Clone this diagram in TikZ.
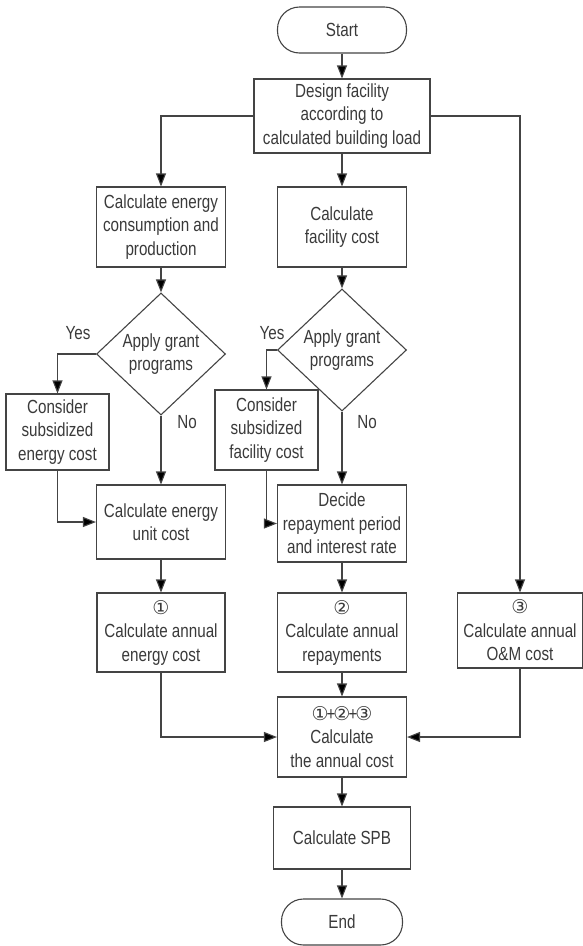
\documentclass[tikz,border=0pt]{standalone}
\usepackage{fontspec}
\setmainfont{Liberation Sans}[FakeStretch=0.8]
\newfontfamily\circfont{DejaVu Sans}
\usetikzlibrary{arrows.meta,shapes.geometric}
\definecolor{txt}{HTML}{3A3A3A}
\definecolor{edge}{HTML}{444444}
\newcommand{\cn}[1]{{\circfont\fontsize{19}{19}\selectfont #1}}
\tikzset{
  base/.style={draw=edge, line width=1.1pt, text=txt, align=center, inner sep=1pt,
    font=\fontsize{19}{23.5}\selectfont},
  box/.style={base, rectangle, minimum width=#1},
  term/.style={base, rectangle, rounded corners=22pt, minimum width=#1, minimum height=46pt},
  dec/.style={base, diamond, minimum width=129pt},
  lbl/.style={text=txt, inner sep=0pt, font=\fontsize{19}{23.5}\selectfont},
  arr/.style={draw=edge, line width=1.1pt, -{Triangle[length=13pt,width=10pt,fill=black]}}
}
\begin{document}
\begin{tikzpicture}[x=1pt,y=-1pt]
\useasboundingbox (0,0) rectangle (583,946);
\node[term=129pt] (start) at (342,30) {Start};
\node[box=176pt, minimum height=74pt] (design) at (342,116) {Design facility\\according to\\calculated building load};
\node[box=129pt, minimum height=80pt] (ecp) at (161,227) {Calculate energy\\consumption and\\production};
\node[box=129pt, minimum height=80pt] (fc) at (342,227) {Calculate\\facility cost};
\node[dec, minimum height=116pt] (d1) at (161,354) {Apply grant\\programs};
\node[dec, minimum height=106pt] (d2) at (342,350) {Apply grant\\programs};
\node[box=103pt, minimum height=76pt] (cse) at (57.5,432) {Consider\\subsidized\\energy cost};
\node[box=103pt, minimum height=80pt] (csf) at (266.5,430) {Consider\\subsidized\\facility cost};
\node[box=129pt, minimum height=74pt] (euc) at (161,522) {Calculate energy\\unit cost};
\node[box=129pt, minimum height=77pt] (dcd) at (342,523.5) {Decide\\repayment period\\and interest rate};
\node[box=128pt, minimum height=79pt] (aec) at (161,632.5) {\cn{①}\\Calculate annual\\energy cost};
\node[box=129pt, minimum height=79pt] (ar) at (342,632.5) {\cn{②}\\Calculate annual\\repayments};
\node[box=125pt, minimum height=75pt] (om) at (520,630.5) {\cn{③}\\Calculate annual\\O\&M cost};
\node[box=129pt, minimum height=80pt] (sum) at (342,737) {\cn{①}\kern-2pt+\kern-2pt\cn{②}\kern-2pt+\kern-2pt\cn{③}\\Calculate\\the annual cost};
\node[box=137pt, minimum height=62pt] (spb) at (342,838) {Calculate SPB};
\node[term=121pt] (end) at (342,922) {End};
\node[lbl] (y1) at (78,333) {Yes};
\node[lbl] (n1) at (187,422) {No};
\node[lbl] (y2) at (272,333) {Yes};
\node[lbl] (n2) at (367,422) {No};
\draw[arr] (start) -- (design);
\draw[arr] (design.west) -| (ecp.north);
\draw[arr] (design) -- (fc);
\draw[arr] (design.east) -| (om.north);
\draw[arr] (ecp) -- (d1);
\draw[arr] (d1.west) -| (cse.north);
\draw[arr] (d1.south) -- (euc.north);
\draw[arr] (cse.south) |- (euc.west);
\draw[arr] (euc) -- (aec);
\draw[arr] (fc) -- (d2);
\draw[arr] (d2.west) -| (csf.north);
\draw[arr] (d2.south) -- (dcd.north);
\draw[arr] (csf.south) |- (dcd.west);
\draw[arr] (dcd) -- (ar);
\draw[arr] (ar) -- (sum);
\draw[arr] (aec.south) |- (sum.west);
\draw[arr] (om.south) |- (sum.east);
\draw[arr] (sum) -- (spb);
\draw[arr] (spb) -- (end);
\end{tikzpicture}
\end{document}
